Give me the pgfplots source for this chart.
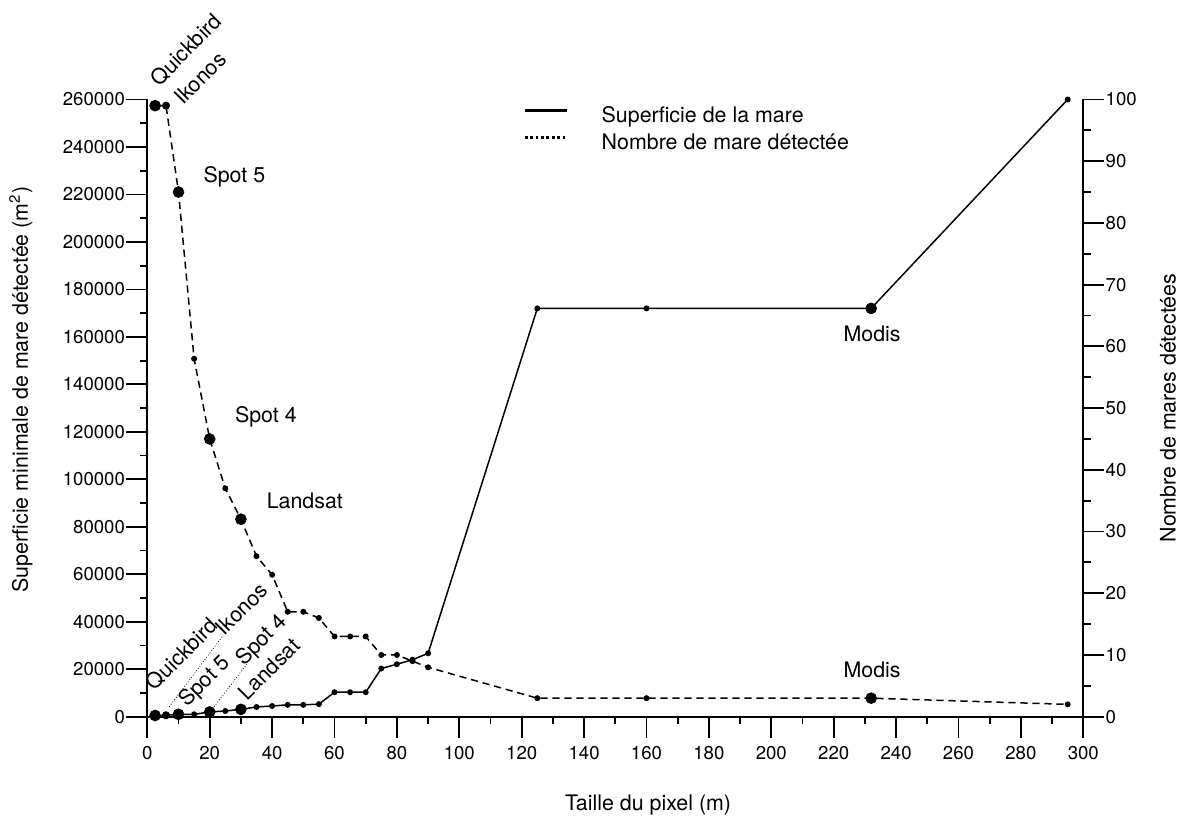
\documentclass[border=0pt]{standalone}
\usepackage{fontspec}
\setmainfont{TeX Gyre Heros}
\usepackage{pgfplots}
\usepackage{pgfplotstable}
\pgfplotsset{compat=1.18}

% Minimal detected pond area (m^2) against pixel size (m)
\pgfplotstableread{
x area
2.5 500
6 600
10 1000
15 1000
20 2000
25 2400
30 3100
35 4100
40 4500
45 5000
50 5000
55 5300
60 10300
65 10300
70 10300
75 20300
80 22100
85 24000
90 26700
125 172000
160 172000
232 172000
295 260000
}\superficie

% Number of detected ponds against pixel size (m)
\pgfplotstableread{
x n
2.5 99
6 99
10 85
15 58
20 45
25 37
30 32
35 26
40 23
45 17
50 17
55 16
60 13
65 13
70 13
75 10
80 10
85 9
90 8
125 3
160 3
232 3
295 2
}\nombre

\pgfplotsset{
  commonaxis/.style={
    scale only axis, width=468pt, height=308.6pt,
    xmin=0, xmax=300,
    axis line style={line width=0.9pt},
    tick style={black, line width=0.9pt},
    tick align=outside,
    major tick length=10.5pt, minor tick length=3.6pt,
    scaled y ticks=false,
    /pgf/number format/fixed,
    /pgf/number format/assume math mode=true,
    /pgf/number format/1000 sep={},
    tick label style={font=\fontsize{9.3}{11}\selectfont},
    yticklabel style={inner xsep=0.5pt},
    clip=false,
  },
}

\begin{document}
\begin{tikzpicture}[font=\fontsize{10.7}{13}\selectfont]
\useasboundingbox (-73.65pt,-51.15pt) rectangle (518.35pt,358.35pt);

\begin{axis}[
  commonaxis,
  ymin=0, ymax=260000,
  axis x line*=bottom, axis y line*=left,
  xtick distance=20, minor x tick num=1,
  ytick distance=20000, minor y tick num=1,
  xticklabel style={inner ysep=4pt},
  xlabel={Taille du pixel (m)},
  ylabel={Superficie minimale de mare détectée (m\textsuperscript{2})},
  xlabel style={at={(axis description cs:0.535,-0.143)}, anchor=center},
  ylabel style={at={(axis description cs:-0.135,0.53)}, anchor=center},
  legend style={draw=none, fill=none, at={(axis cs:120.4,257300)}, anchor=north west,
    inner sep=0pt, row sep=3pt, font=\fontsize{10.7}{13}\selectfont,
    cells={anchor=west}, nodes={inner sep=0pt, text height=8pt, text depth=2.5pt}},
  legend image code/.code={\draw[#1] (0pt,3.3pt) -- (21pt,3.3pt);
    \path[draw=none, fill=none] (0pt,3.3pt) -- (38.5pt,3.3pt);},
]
\addplot[black, line width=0.75pt, mark=*, mark size=1.1pt, forget plot]
  table[x=x, y=area]{\superficie};
% sensors highlighted with larger dots
\addplot[black, only marks, mark=*, mark size=2.7pt, forget plot]
  coordinates {(2.5,500) (10,1000) (20,2000) (30,3100) (232,172000)};
\addplot[black, only marks, mark=*, mark size=1.8pt, forget plot]
  coordinates {(6,600)};

\addlegendimage{black, line width=1.35pt}
\addlegendentry{Superficie de la mare}
\addlegendimage{black, line width=1.35pt, dash pattern=on 1.4pt off 1.3pt}
\addlegendentry{Nombre de mare détectée}

% sensor names
\node[rotate=45] at (axis cs:12.4,280900) {Quickbird};
\node[rotate=45] at (axis cs:16.9,269000) {Ikonos};
\node at (axis cs:27.9,227400) {Spot 5};
\node at (axis cs:38.0,126500) {Spot 4};
\node at (axis cs:50.5,91100) {Landsat};
\node at (axis cs:232.3,161400) {Modis};
\node at (axis cs:232.3,19900) {Modis};
\node[rotate=45] at (axis cs:11.0,26400) {Quickbird};
\node[rotate=45] at (axis cs:30.2,45400) {Ikonos};
\node[rotate=45] at (axis cs:18.5,14700) {Spot 5};
\node[rotate=45] at (axis cs:36.7,31900) {Spot 4};
\node[rotate=45] at (axis cs:39.0,20100) {Landsat};
\draw[densely dotted, line width=0.4pt] (axis cs:7.05,4200) -- (axis cs:24.4,34400);
\draw[densely dotted, line width=0.4pt] (axis cs:21.4,4200) -- (axis cs:32.1,22500);
\end{axis}

\begin{axis}[
  commonaxis,
  ymin=0, ymax=100,
  axis x line=none, axis y line*=right,
  ytick distance=10, minor y tick num=1,
  ylabel={Nombre de mares détectées},
  ylabel style={at={(axis description cs:1.0905,0.5)}, anchor=center},
]
\addplot[black, line width=0.75pt, dash pattern=on 3.6pt off 2.4pt, mark=*, mark size=1.1pt,
  mark options={solid}]
  table[x=x, y=n]{\nombre};
\addplot[black, only marks, mark=*, mark size=2.7pt]
  coordinates {(2.5,99) (10,85) (20,45) (30,32) (232,3)};
\addplot[black, only marks, mark=*, mark size=1.8pt]
  coordinates {(6,99)};
\end{axis}
\end{tikzpicture}
\end{document}
